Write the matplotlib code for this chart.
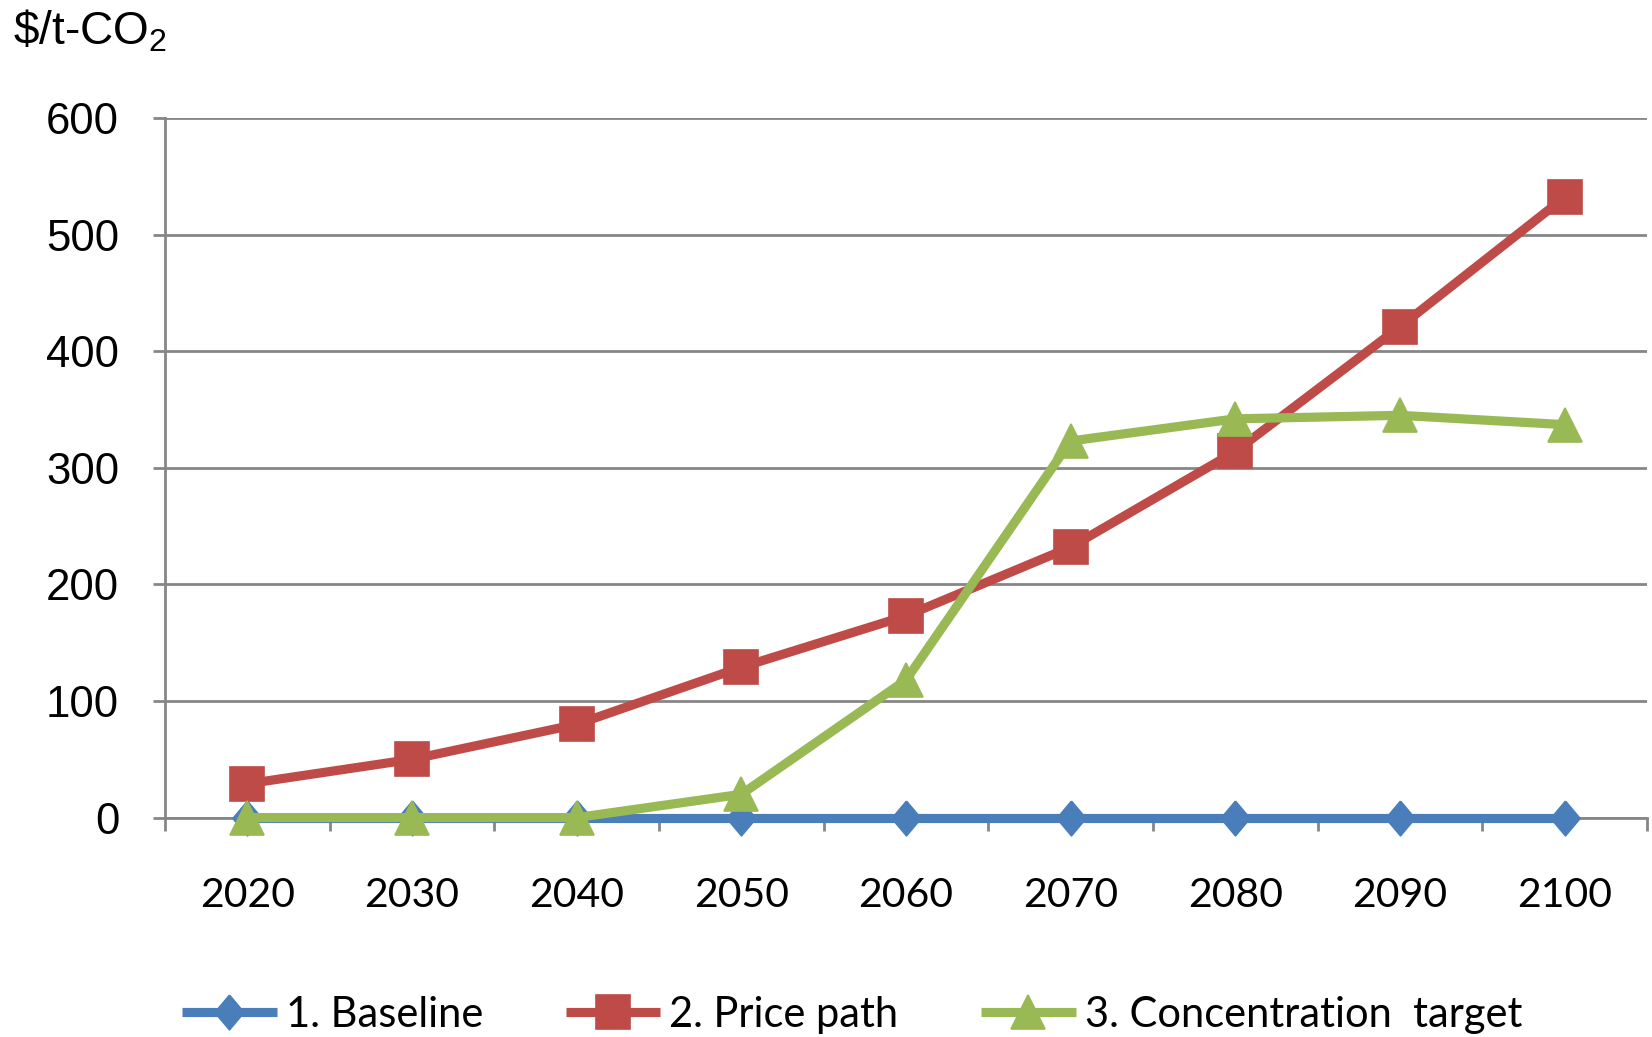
import matplotlib
matplotlib.use("Agg")
import matplotlib.pyplot as plt
from matplotlib.ticker import MultipleLocator, FixedLocator

# Carbon price trajectories ($/t-CO2) by scenario
years = [2020, 2030, 2040, 2050, 2060, 2070, 2080, 2090, 2100]
baseline = [0, 0, 0, 0, 0, 0, 0, 0, 0]
price_path = [29, 50, 80, 129, 173, 232, 314, 421, 532]
concentration_target = [0, 0, 0, 20, 118, 323, 342, 345, 337]

series_labels = ["1. Baseline", "2. Price path", "3. Concentration  target"]
y_ticks = [0, 100, 200, 300, 400, 500, 600]

blue = "#4A7EBB"
red = "#BE4B48"
green = "#98B954"
grid_gray = "#868686"

plt.rcParams["mathtext.fontset"] = "custom"
plt.rcParams["mathtext.rm"] = "Liberation Sans"
plt.rcParams["mathtext.default"] = "regular"

W, H = 1652, 1037
fig = plt.figure(figsize=(W / 100, H / 100), dpi=100)
ax = fig.add_axes([165 / W, 1 - 817.6 / H, (1647 - 165) / W, (817.6 - 118) / H])

ax.set_xlim(2015, 2105)
ax.set_ylim(0, 600)

# thin diamond marker used for the baseline
diamond = [(0, 1), (0.84, 0), (0, -1), (-0.84, 0), (0, 1)]

lw = 6.6
common = dict(lw=lw, ms=25, clip_on=False, solid_joinstyle="round",
              solid_capstyle="butt", markeredgewidth=1.2)
l1, = ax.plot(years, baseline, color=blue, marker=diamond,
              mfc=blue, mec=blue, zorder=3, **common)
l2, = ax.plot(years, price_path, color=red, marker="s",
              mfc=red, mec=red, zorder=4, **common)
l3, = ax.plot(years, concentration_target, color=green, marker="^",
              mfc=green, mec=green, zorder=5, **common)

# axes styling
for side in ("top", "right"):
    ax.spines[side].set_visible(False)
for side in ("left", "bottom"):
    ax.spines[side].set_color(grid_gray)
    ax.spines[side].set_linewidth(2)

ax.yaxis.set_major_locator(FixedLocator(y_ticks))
ax.yaxis.grid(True, color=grid_gray, lw=2)
ax.set_axisbelow(True)
ax.tick_params(axis="y", which="major", direction="out", length=9, width=2,
               color=grid_gray, pad=24)
for lab in ax.get_yticklabels():
    lab.set_fontfamily(["Liberation Sans", "DejaVu Sans"])
    lab.set_fontsize(31.5)

ax.set_xticks(years)
ax.set_xticklabels([str(y) for y in years])
ax.xaxis.set_minor_locator(MultipleLocator(10, offset=5))
ax.tick_params(axis="x", which="major", length=0, pad=43)
ax.tick_params(axis="x", which="minor", direction="out", length=9, width=2,
               color=grid_gray)
for lab in ax.get_xticklabels():
    lab.set_fontfamily(["Lato", "DejaVu Sans"])
    lab.set_fontsize(29.5)

# unit label
fig.text(13 / W, 1 - 44 / H, r"\$/t-CO$_2$", fontsize=33,
         family=["Liberation Sans", "DejaVu Sans"], ha="left", va="baseline")

leg = fig.legend([l1, l2, l3], series_labels, ncol=3, loc="center",
                 bbox_to_anchor=(852 / W, 1 - 1015 / H), frameon=False,
                 prop={"family": ["Lato", "DejaVu Sans"], "size": 30},
                 handlelength=2.27, handletextpad=0.22, columnspacing=1.98,
                 borderaxespad=0, borderpad=0)

fig.savefig("out.png", dpi=100)
